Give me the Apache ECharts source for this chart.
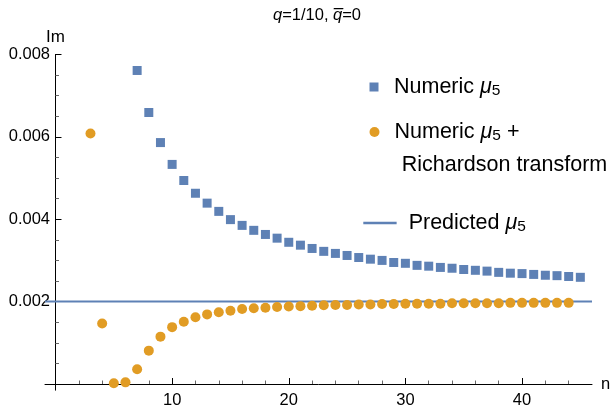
<!DOCTYPE html>
<html>
<head>
<meta charset="utf-8">
<script src="https://cdn.jsdelivr.net/npm/echarts@6/dist/echarts.min.js"></script>
<style>html,body{margin:0;padding:0;background:#fff}#c{width:611px;height:409px}</style>
</head>
<body>
<div id="c"></div>
<script>
// ---- data ----
const numericN = [7,8,9,10,11,12,13,14,15,16,17,18,19,20,21,22,23,24,25,26,27,28,29,30,31,32,33,34,35,36,37,38,39,40,41,42,43,44,45];
const numericMu5 = [0.00761,0.00659,0.00586,0.00533,0.00494,0.00463,0.00439,0.00419,0.00399,0.00385,0.00373,0.00363,0.00354,0.00344,0.00337,0.00329,0.00322,0.00317,0.00312,0.00307,0.00303,0.00300,0.00295,0.00293,0.00288,0.00286,0.00283,0.00281,0.00278,0.00276,0.00274,0.00271,0.00269,0.00268,0.00266,0.00264,0.00263,0.00261,0.00259];
const richN = [3,4,5,6,7,8,9,10,11,12,13,14,15,16,17,18,19,20,21,22,23,24,25,26,27,28,29,30,31,32,33,34,35,36,37,38,39,40,41,42,43,44];
const richMu5 = [0.00608,0.00147,0.00002,0.00004,0.00036,0.00081,0.00115,0.00138,0.00151,0.00162,0.00169,0.00174,0.00178,0.00182,0.00184,0.00185,0.00187,0.00188,0.00189,0.00190,0.00191,0.00192,0.00192,0.00193,0.00193,0.00194,0.00194,0.00195,0.00195,0.00195,0.00195,0.00196,0.00196,0.00196,0.00196,0.00196,0.00197,0.00197,0.00197,0.00197,0.00197,0.00197];
const predictedMu5 = 0.002;
const xMajorTicks = [10,20,30,40];
const xMinorTicks = [2,4,6,8,12,14,16,18,22,24,26,28,32,34,36,38,42,44];
const yMajorTicks = [0.002,0.004,0.006,0.008];
const yMinorTicks = [0.0005,0.001,0.0015,0.0025,0.003,0.0035,0.0045,0.005,0.0055,0.0065,0.007,0.0075];
const xRange = [-0.9, 46];
const yRange = [-0.00015, 0.008];

const BLUE = '#5E81B5', ORANGE = '#E19C24';
const FF = '"Liberation Sans", Arial, sans-serif';

const chart = echarts.init(document.getElementById('c'), null, {renderer: 'canvas'});

const LFS = 21.5;
const legendRich = {
  p: {fontFamily: FF, fontSize: LFS, color: '#000', lineHeight: 24, padding: [0,0,0,7]},
  a: {fontFamily: FF, fontSize: LFS, color: '#000', lineHeight: 24},
  m: {fontFamily: FF, fontSize: LFS, color: '#000', fontStyle: 'italic', lineHeight: 24},
  s: {fontFamily: FF, fontSize: 15.5, color: '#000', lineHeight: 24, padding: [8,0,0,0]}
};
const legendNames = {
  numeric: '{a|Numeric }{m|μ}{s|5}',
  rich: '{a|Numeric }{m|μ}{s|5}{a| +}',
  predicted: '{p|Predicted }{m|μ}{s|5}'
};
function mkLegend(name, left, top, icon, w, h) {
  return {
    data: [name], left: left, top: top, padding: 0, selectedMode: false,
    icon: icon, itemWidth: w, itemHeight: h,
    formatter: n => legendNames[n],
    textStyle: {rich: legendRich, fontFamily: FF, fontSize: LFS, color: '#000'}
  };
}

const option = {
  animation: false,
  backgroundColor: '#fff',
  grid: {left: 45, right: 19, top: 54.4, bottom: 18.8, containLabel: false, outerBoundsMode: 'none'},
  legend: [
    mkLegend('numeric', 369.5, 75, 'path://M0,0L10,0L10,10L0,10Z', 30, 9),
    mkLegend('rich', 369.5, 120, 'circle', 30, 10),
    mkLegend('predicted', 363.3, 211, 'path://M0,0L40,0L40,3L0,3Z', 33.4, 2.5)
  ],
  graphic: [
    {type: 'text', x: 317, y: 15, silent: true,
     style: {text: '{i|q}{n|=1/10, }{i|q\u0305}{n|=0}', align: 'center', verticalAlign: 'middle',
       rich: {i: {fontFamily: FF, fontSize: 16.5, fontStyle: 'italic', fill: '#000'}, n: {fontFamily: FF, fontSize: 16.5, fill: '#000'}}}},
    {type: 'text', x: 401.7, y: 165, silent: true,
     style: {text: 'Richardson transform', fontFamily: FF, fontSize: LFS, fill: '#000', align: 'left', verticalAlign: 'middle'}}
  ],
  xAxis: [
    {type: 'value', min: xRange[0], max: xRange[1], position: 'bottom',
     name: 'n', nameLocation: 'end', nameGap: 9, nameTextStyle: {fontFamily: FF, fontSize: 16.5, color: '#000'},
     axisLine: {onZero: true, onZeroAxisIndex: 0, lineStyle: {color: '#000', width: 1}},
     axisTick: {inside: true, length: 6, customValues: xMajorTicks, lineStyle: {color: '#000'}},
     axisLabel: {customValues: xMajorTicks, fontFamily: FF, fontSize: 16.5, color: '#000', margin: 2},
     splitLine: {show: false}},
    {type: 'value', min: xRange[0], max: xRange[1], position: 'top',
     axisLine: {show: false, onZero: true, onZeroAxisIndex: 0},
     axisTick: {inside: false, length: 3.5, customValues: xMinorTicks, lineStyle: {color: '#666'}},
     axisLabel: {show: false}, splitLine: {show: false}}
  ],
  yAxis: [
    {type: 'value', min: yRange[0], max: yRange[1], position: 'left',
     name: 'Im', nameLocation: 'end', nameGap: 7, nameTextStyle: {fontFamily: FF, fontSize: 17, color: '#000'},
     axisLine: {onZero: true, onZeroAxisIndex: 0, lineStyle: {color: '#000', width: 1}},
     axisTick: {inside: true, length: 6, customValues: yMajorTicks, lineStyle: {color: '#000'}},
     axisLabel: {customValues: yMajorTicks, fontFamily: FF, fontSize: 16.5, color: '#000', margin: -5, formatter: v => v.toFixed(3)},
     splitLine: {show: false}},
    {type: 'value', min: yRange[0], max: yRange[1], position: 'right',
     axisLine: {show: false, onZero: true, onZeroAxisIndex: 0},
     axisTick: {inside: false, length: 3.5, customValues: yMinorTicks, lineStyle: {color: '#666'}},
     axisLabel: {show: false}, splitLine: {show: false}}
  ],
  series: [
    {name: 'predicted', type: 'line', xAxisIndex: 0, yAxisIndex: 0, color: BLUE,
     data: [[xRange[0], predictedMu5], [xRange[1], predictedMu5]],
     showSymbol: false, symbol: 'none', lineStyle: {color: BLUE, width: 2}, z: 1},
    {name: 'numeric', type: 'scatter', xAxisIndex: 0, yAxisIndex: 0, color: BLUE,
     symbol: 'rect', symbolSize: 9, itemStyle: {color: BLUE, opacity: 1},
     data: numericN.map((n, i) => [n, numericMu5[i]]), z: 3},
    {name: 'rich', type: 'scatter', xAxisIndex: 0, yAxisIndex: 0, color: ORANGE,
     symbol: 'circle', symbolSize: 10, itemStyle: {color: ORANGE, opacity: 1},
     data: richN.map((n, i) => [n, richMu5[i]]), z: 3}
  ]
};
chart.setOption(option);
</script>
</body>
</html>
